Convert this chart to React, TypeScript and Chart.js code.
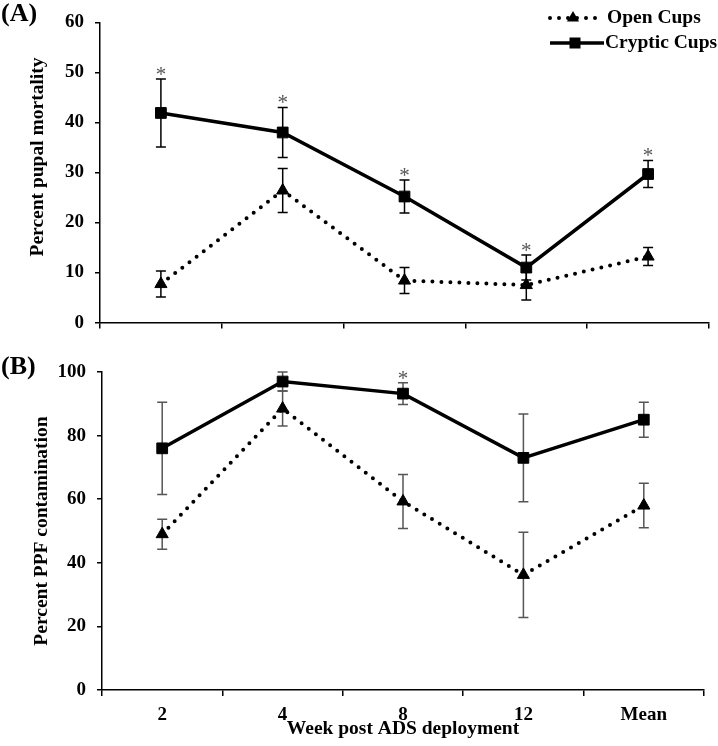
import React, { useEffect, useRef } from 'react';
import { Chart, registerables } from 'chart.js';

Chart.register(...registerables);

const FONT = "'Times New Roman', 'Liberation Serif', serif";

const weeks = ['2', '4', '8', '12', 'Mean'];

const pupalOpen = [7.7, 26.4, 8.4, 7.5, 13.2];
const pupalOpenErr = [2.6, 4.4, 2.6, 3.0, 1.8];
const pupalCryptic = [41.9, 38.0, 25.2, 11.0, 29.7];
const pupalCrypticErr = [6.8, 5.0, 3.3, 2.5, 2.7];
const pupalSignificant = [true, true, true, true, true];

const ppfOpen = [49.0, 88.5, 59.3, 36.2, 58.0];
const ppfOpenErr = [4.7, 5.5, 8.5, 13.4, 7.0];
const ppfCryptic = [76.0, 97.0, 93.2, 73.0, 85.0];
const ppfCrypticErr = [14.5, 3.0, 3.4, 13.8, 5.5];
const ppfSignificant = [false, false, true, false, false];

const seriesNames = ['Open Cups', 'Cryptic Cups'];
const pupalAxis = { min: 0, max: 60, step: 10 };
const ppfAxis = { min: 0, max: 100, step: 20 };

function drawTriangle(ctx: CanvasRenderingContext2D, x: number, y: number, r: number) {
  const s = Math.sin(Math.PI / 3) * r;
  ctx.beginPath();
  ctx.moveTo(x, y - r);
  ctx.lineTo(x - s, y + r / 2);
  ctx.lineTo(x + s, y + r / 2);
  ctx.closePath();
  ctx.fill();
}

function makeDecor(cfg: any) {
  return {
    id: 'decor',
    beforeDatasetsDraw(chart: any) {
      const ctx = chart.ctx;
      const xs = chart.scales.x;
      const ys = chart.scales.y;
      ctx.save();
      ctx.strokeStyle = cfg.errColor;
      ctx.lineWidth = 1.5;
      cfg.errors.forEach((errs: number[], di: number) => {
        const vals = chart.data.datasets[di].data as number[];
        vals.forEach((v, j) => {
          const x = xs.getPixelForValue(j);
          const t = ys.getPixelForValue(v + errs[j]);
          const b = ys.getPixelForValue(v - errs[j]);
          ctx.beginPath();
          ctx.moveTo(x, t);
          ctx.lineTo(x, b);
          ctx.moveTo(x - 5, t);
          ctx.lineTo(x + 5, t);
          ctx.moveTo(x - 5, b);
          ctx.lineTo(x + 5, b);
          ctx.stroke();
        });
      });
      ctx.restore();
    },
    afterDraw(chart: any) {
      const ctx = chart.ctx;
      const xs = chart.scales.x;
      const ys = chart.scales.y;
      ctx.save();
      // significance asterisks above cryptic error bars
      ctx.fillStyle = '#555';
      ctx.font = `21px ${FONT}`;
      ctx.textAlign = 'center';
      ctx.textBaseline = 'alphabetic';
      const cv = chart.data.datasets[1].data as number[];
      cfg.sig.forEach((s: boolean, j: number) => {
        if (!s) return;
        const x = xs.getPixelForValue(j);
        const t = ys.getPixelForValue(cv[j] + cfg.errors[1][j]);
        ctx.fillText('*', x, t + 2);
      });
      // panel label
      ctx.fillStyle = '#000';
      ctx.font = `bold 26px ${FONT}`;
      ctx.textAlign = 'left';
      ctx.textBaseline = 'middle';
      ctx.fillText(cfg.panel, 1, cfg.panelY);
      // y title
      ctx.save();
      ctx.translate(cfg.yTitleX, cfg.yTitleY);
      ctx.rotate(-Math.PI / 2);
      ctx.font = `bold 19.5px ${FONT}`;
      ctx.textAlign = 'center';
      ctx.textBaseline = 'middle';
      ctx.fillText(cfg.yTitle, 0, 0);
      ctx.restore();
      // x title
      if (cfg.xTitle) {
        ctx.font = `bold 19.5px ${FONT}`;
        ctx.textAlign = 'center';
        ctx.textBaseline = 'alphabetic';
        ctx.fillText(cfg.xTitle, (chart.chartArea.left + chart.chartArea.right) / 2, cfg.xTitleY);
      }
      // legend
      if (cfg.legend) {
        const lx0 = 550, lx1 = 602, mx = 575;
        const y1 = 18, y2 = 43;
        ctx.strokeStyle = '#000';
        ctx.fillStyle = '#000';
        ctx.lineCap = 'round';
        ctx.lineWidth = 4;
        ctx.setLineDash([0, 9]);
        ctx.beginPath();
        ctx.moveTo(lx0, y1);
        ctx.lineTo(lx1, y1);
        ctx.stroke();
        ctx.setLineDash([]);
        drawTriangle(ctx, mx - 2, y1, 7);
        ctx.lineCap = 'butt';
        ctx.lineWidth = 3.5;
        ctx.beginPath();
        ctx.moveTo(lx0, y2);
        ctx.lineTo(lx1 + 2, y2);
        ctx.stroke();
        ctx.fillRect(mx - 5.5, y2 - 5.5, 11, 11);
        ctx.font = `bold 19.5px ${FONT}`;
        ctx.textAlign = 'left';
        ctx.textBaseline = 'middle';
        ctx.fillText(seriesNames[0], 607, y1);
        ctx.fillText(seriesNames[1], 605, y2);
      }
      ctx.restore();
    },
  };
}

function makeConfig(open: number[], cryptic: number[], axis: any, opts: any, decor: any): any {
  return {
    type: 'line',
    data: {
      labels: weeks,
      datasets: [
        {
          label: seriesNames[0],
          data: open,
          borderColor: '#000',
          backgroundColor: '#000',
          borderWidth: 4,
          borderDash: [0, 9],
          borderCapStyle: 'round',
          pointStyle: 'triangle',
          pointRadius: 7,
          pointBorderWidth: 1,
          pointBackgroundColor: '#000',
          pointBorderColor: '#000',
          tension: 0,
        },
        {
          label: seriesNames[1],
          data: cryptic,
          borderColor: '#000',
          backgroundColor: '#000',
          borderWidth: 3.5,
          pointStyle: 'rect',
          pointRadius: 7.6,
          pointBorderWidth: 1,
          pointBackgroundColor: '#000',
          pointBorderColor: '#000',
          tension: 0,
        },
      ],
    },
    options: {
      responsive: false,
      animation: false,
      events: [],
      layout: { padding: opts.padding },
      plugins: { legend: { display: false }, tooltip: { enabled: false } },
      scales: {
        x: {
          offset: true,
          grid: {
            display: true,
            offset: true,
            drawOnChartArea: false,
            drawTicks: true,
            tickLength: 6,
            color: '#000',
            lineWidth: 1.5,
          },
          border: { display: true, color: '#000', width: 1.5 },
          ticks: {
            display: opts.showX,
            color: '#000',
            padding: 8,
            font: { family: FONT, size: 19, weight: 'bold' },
          },
          afterFit: (s: any) => {
            s.height = opts.xHeight;
          },
        },
        y: {
          min: axis.min,
          max: axis.max,
          ticks: {
            stepSize: axis.step,
            color: '#000',
            padding: 11,
            font: { family: FONT, size: 19, weight: 'bold' },
          },
          grid: {
            drawOnChartArea: false,
            drawTicks: true,
            tickLength: 5,
            color: '#000',
            lineWidth: 1.5,
          },
          border: { display: true, color: '#000', width: 1.5 },
          afterFit: (s: any) => {
            s.width = opts.yWidth;
          },
        },
      },
    },
    plugins: [makeDecor(decor)],
  };
}

export default function App() {
  const topRef = useRef<HTMLCanvasElement>(null);
  const botRef = useRef<HTMLCanvasElement>(null);

  useEffect(() => {
    const top = new Chart(
      topRef.current as HTMLCanvasElement,
      makeConfig(
        pupalOpen,
        pupalCryptic,
        pupalAxis,
        { padding: { left: 0, right: 9, top: 17, bottom: 0 }, showX: false, xHeight: 11, yWidth: 100 },
        {
          errColor: '#000',
          errors: [pupalOpenErr, pupalCrypticErr],
          sig: pupalSignificant,
          panel: '(A)',
          panelY: 14,
          yTitle: 'Percent pupal mortality',
          yTitleX: 38,
          yTitleY: 157,
          legend: true,
        }
      )
    );
    const bot = new Chart(
      botRef.current as HTMLCanvasElement,
      makeConfig(
        ppfOpen,
        ppfCryptic,
        ppfAxis,
        { padding: { left: 0, right: 14, top: 27, bottom: 0 }, showX: true, xHeight: 56, yWidth: 102 },
        {
          errColor: '#555',
          errors: [ppfOpenErr, ppfCrypticErr],
          sig: ppfSignificant,
          panel: '(B)',
          panelY: 22,
          yTitle: 'Percent PPF contamination',
          yTitleX: 42,
          yTitleY: 186,
          xTitle: 'Week post ADS deployment',
          xTitleY: 389,
          legend: false,
        }
      )
    );
    return () => {
      top.destroy();
      bot.destroy();
    };
  }, []);

  return (
    <div style={{ position: 'fixed', left: 0, top: 0, width: 718, height: 746, background: '#fff' }}>
      <canvas ref={topRef} width={718} height={345} style={{ position: 'absolute', left: 0, top: 0 }} />
      <canvas ref={botRef} width={718} height={401} style={{ position: 'absolute', left: 0, top: 345 }} />
    </div>
  );
}
